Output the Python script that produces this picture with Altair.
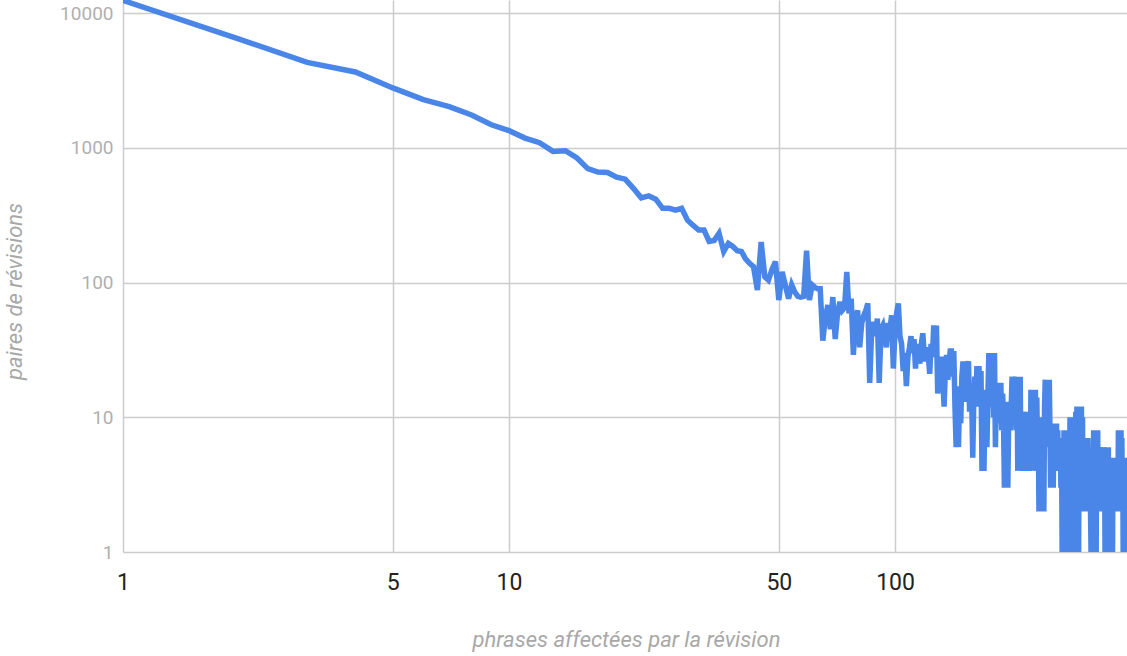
import altair as alt
import pandas as pd

# Number of revision pairs for each count of affected sentences (1, 2, 3, ...)
counts_1_50 = [
    12400, 6400, 4300, 3650, 2780, 2280, 2020, 1750, 1480, 1340,
    1180, 1090, 940, 950, 840, 700, 660, 655, 605, 585,
    500, 425, 440, 415, 355, 355, 345, 355, 290, 265,
    245, 245, 202, 205, 232, 170, 195, 185, 172, 170,
    150, 139, 131, 88, 200, 110, 104, 125, 143, 74,
]
counts_51_100 = [
    120, 95, 76, 96, 85, 79, 78, 79, 172, 74,
    96, 92, 90, 90, 37, 55, 68, 45, 78, 38,
    60, 72, 62, 65, 120, 59, 76, 29, 55, 62,
    33, 50, 57, 62, 70, 18, 45, 51, 40, 54,
    18, 45, 48, 40, 33, 50, 45, 57, 23, 45,
]
counts_101_150 = [
    60, 70, 40, 35, 22, 30, 17, 28, 33, 40,
    30, 38, 23, 35, 30, 25, 35, 42, 30, 26,
    33, 28, 21, 35, 28, 48, 30, 48, 15, 25,
    27, 27, 19, 12, 22, 29, 19, 25, 31, 31,
    20, 31, 12, 6, 17, 6, 14, 9, 20, 26,
]
counts_151_250 = [
    15, 26, 13, 24, 26, 11, 18, 14, 5, 14,
    20, 12, 24, 15, 24, 12, 22, 4, 13, 4,
    14, 16, 6, 14, 30, 12, 30, 15, 28, 10,
    30, 6, 14, 18, 9, 18, 12, 18, 8, 15,
    10, 3, 12, 3, 13, 3, 10, 12, 8, 12,
    20, 10, 20, 14, 20, 8, 20, 4, 18, 10,
    20, 4, 11, 4, 11, 6, 11, 4, 10, 5,
    11, 4, 9, 4, 16, 5, 16, 4, 16, 7,
    16, 5, 14, 5, 10, 2, 9, 5, 10, 5,
    8, 5, 2, 12, 19, 8, 19, 10, 19, 6,
]
counts_251_399 = [
    19, 8, 3, 9, 3, 9, 3, 9, 4, 9,
    4, 9, 4, 8, 4, 7, 4, 7, 3, 7,
    1, 7, 1, 8, 1, 6, 1, 8, 2, 8,
    1, 7, 1, 10, 1, 10, 2, 10, 1, 9,
    1, 10, 2, 11, 1, 12, 2, 12, 1, 12,
    2, 12, 2, 12, 2, 10, 2, 7, 3, 7,
    2, 7, 2, 6, 2, 7, 2, 6, 3, 6,
    2, 1, 6, 1, 6, 1, 8, 1, 8, 2,
    8, 1, 8, 2, 8, 2, 6, 2, 6, 3,
    6, 2, 6, 2, 6, 2, 6, 3, 6, 1,
    6, 1, 6, 1, 6, 1, 6, 1, 5, 1,
    5, 1, 5, 1, 5, 1, 5, 2, 5, 2,
    5, 2, 5, 2, 5, 2, 5, 2, 8, 2,
    8, 2, 8, 2, 8, 2, 7, 2, 5, 1,
    5, 1, 4, 1, 5, 1, 4, 1, 2,
]

x_ticks = [1, 5, 10, 50, 100]
y_ticks = [1, 10, 100, 1000, 10000]

pairs = counts_1_50 + counts_51_100 + counts_101_150 + counts_151_250 + counts_251_399
sentences = list(range(1, len(pairs) + 1))
df = pd.DataFrame({"sentences": sentences, "pairs": pairs})

chart = (
    alt.Chart(df)
    .mark_line(color="#4a86e8", strokeWidth=5.5, clip=True)
    .encode(
        x=alt.X(
            "sentences:Q",
            scale=alt.Scale(type="log", domain=[1, 399], nice=False),
            axis=alt.Axis(
                values=x_ticks,
                format="d",
                title="phrases affectées par la révision",
                grid=True,
                gridColor="#cccccc",
                gridWidth=1.5,
                domain=False,
                ticks=False,
                labelFont="Roboto",
                labelFontSize=23,
                labelColor="#222222",
                labelPadding=37,
                labelBaseline="alphabetic",
                labelFlush=False,
                labelOverlap=False,
                titleFont="Roboto",
                titleFontSize=22,
                titleFontStyle="italic",
                titleFontWeight="normal",
                titleColor="#a8a8a8",
                titleX=503,
                titleY=94,
                titleBaseline="alphabetic",
                titleAlign="center",
            ),
        ),
        y=alt.Y(
            "pairs:Q",
            scale=alt.Scale(type="log", domain=[1, 12490], nice=False),
            axis=alt.Axis(
                values=y_ticks,
                format="d",
                title="paires de révisions",
                grid=True,
                gridColor="#cccccc",
                gridWidth=1.5,
                domain=False,
                ticks=False,
                labelFont="Roboto",
                labelFontSize=19,
                labelColor="#b0b0b0",
                labelPadding=10,
                labelBaseline="middle",
                labelFlush=False,
                labelOverlap=False,
                titleFont="Roboto",
                titleFontSize=22,
                titleFontStyle="italic",
                titleFontWeight="normal",
                titleColor="#a8a8a8",
                titleAngle=270,
                titleX=-109,
                titleY=291,
                titleBaseline="middle",
                titleAlign="center",
            ),
        ),
    )
    .properties(
        width=1004,
        height=552,
        autosize=alt.AutoSizeParams(type="none"),
        padding={"left": 123, "top": 0, "right": 0, "bottom": 104},
        background="white",
    )
    .configure_view(stroke=None)
)

chart.save("out.html", embed_options={"renderer": "svg", "actions": False})
